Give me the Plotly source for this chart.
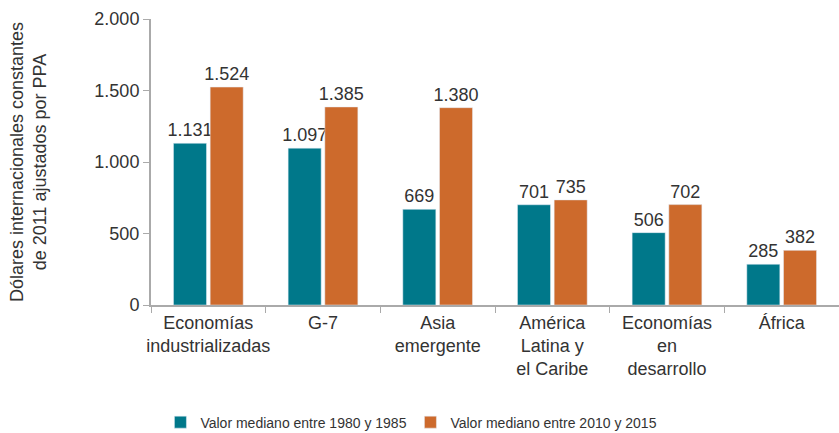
import plotly.graph_objects as go

categories = ["Economías<br>industrializadas", "G-7", "Asia<br>emergente",
              "América<br>Latina y<br>el Caribe", "Economías<br>en<br>desarrollo", "África"]
series1_name = "Valor mediano entre 1980 y 1985"
series2_name = "Valor mediano entre 2010 y 2015"
series1 = [1131, 1097, 669, 701, 506, 285]
series2 = [1524, 1385, 1380, 735, 702, 382]
ytick_vals = [0, 500, 1000, 1500, 2000]
ytick_text = ["0", "500", "1.000", "1.500", "2.000"]

def fmt(v):
    return f"{v:,}".replace(",", ".")

FONT = "Liberation Sans, Arial, sans-serif"
TEAL = "#00788A"
ORANGE = "#CD6A2C"
TXT = "#333333"

fig = go.Figure()
fig.add_trace(go.Bar(x=categories, y=series1, name=series1_name, marker_color=TEAL,
                     text=[fmt(v) for v in series1], textposition="outside",
                     constraintext="none", textangle=0,
                     textfont=dict(size=18, color=TXT), cliponaxis=False))
fig.add_trace(go.Bar(x=categories, y=series2, name=series2_name, marker_color=ORANGE,
                     text=[fmt(v) for v in series2], textposition="outside",
                     constraintext="none", textangle=0,
                     textfont=dict(size=18, color=TXT), cliponaxis=False))

fig.update_layout(
    width=839, height=433,
    margin=dict(l=151, r=0, t=19, b=128, autoexpand=False),
    paper_bgcolor="white", plot_bgcolor="white",
    font=dict(family=FONT, size=18, color=TXT),
    barmode="group", bargap=0.36, bargroupgap=0.1,
    showlegend=True,
    legend=dict(orientation="h", x=0.0137, xanchor="left", y=-0.355, yanchor="top",
                font=dict(size=14, color=TXT), traceorder="normal",
                entrywidth=205, entrywidthmode="pixels"),
)
fig.update_yaxes(range=[0, 2000], tickvals=ytick_vals, ticktext=ytick_text,
                 showgrid=False, zeroline=False, showline=True, linecolor="#aaaaaa",
                 linewidth=2, ticks="outside", ticklen=6, tickcolor="#aaaaaa", tickwidth=1,
                 tickfont=dict(size=18, color=TXT), automargin=False,
                 title=dict(text="Dólares internacionales constantes<br>de 2011 ajustados por PPA",
                            font=dict(size=18, color=TXT), standoff=43))
fig.update_xaxes(showline=True, linecolor="#aaaaaa", linewidth=2, ticks="outside",
                 tickson="boundaries", ticklen=6, tickcolor="#aaaaaa", tickwidth=1,
                 tickangle=0, automargin=False,
                 tickfont=dict(size=18, color=TXT), showgrid=False)

fig.write_html("out.html", config={"displayModeBar": False},
               post_script="document.body.style.margin='0px';document.body.style.overflow='hidden';")
